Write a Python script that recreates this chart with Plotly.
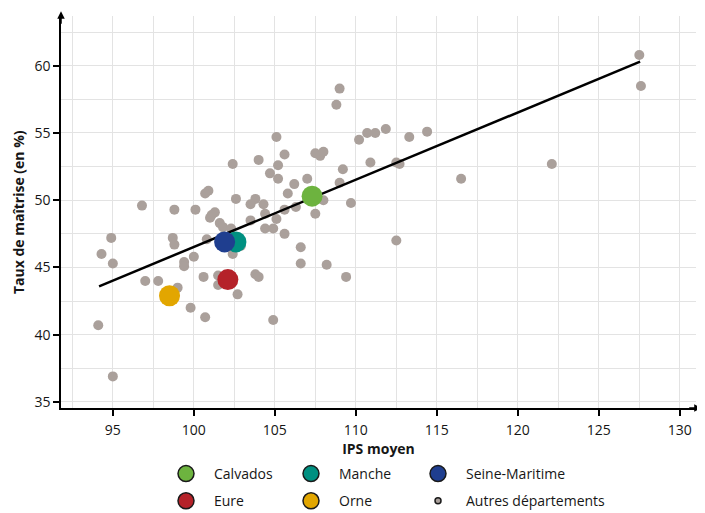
import plotly.graph_objects as go

# ---- data ----
other_ips = [127.5, 127.6, 109.0, 108.8, 105.1, 110.2, 110.7, 111.2, 111.85, 113.3,
             114.4, 102.4, 104.0, 105.6, 107.5, 107.8, 108.0, 105.2, 104.7, 105.2,
             106.2, 107.0, 105.8, 109.2, 109.0, 110.9, 112.5, 112.7, 116.5, 122.1,
             109.7, 108.0, 107.5, 102.6, 103.8, 103.5, 104.3, 104.4, 105.6, 106.3,
             103.5, 105.1, 100.9, 100.7, 96.8, 98.8, 100.1, 101.3, 101.1, 101.0,
             101.6, 101.8, 104.4, 104.9, 105.6, 102.3, 94.9, 98.7, 98.8, 100.8,
             94.3, 95.0, 100.0, 99.4, 99.4, 97.0, 97.8, 99.0, 100.6, 101.5,
             101.5, 102.7, 99.8, 100.7, 94.1, 95.0, 103.8, 104.0, 104.9, 112.5,
             106.6, 106.6, 108.2, 109.4, 102.4, 102.9]
other_taux = [60.8, 58.5, 58.3, 57.1, 54.7, 54.5, 55.0, 55.0, 55.3, 54.7,
              55.1, 52.7, 53.0, 53.4, 53.5, 53.3, 53.6, 52.6, 52.0, 51.6,
              51.2, 51.6, 50.5, 52.3, 51.3, 52.8, 52.8, 52.7, 51.6, 52.7,
              49.8, 50.0, 49.0, 50.1, 50.1, 49.7, 49.7, 49.0, 49.3, 49.5,
              48.5, 48.6, 50.7, 50.5, 49.6, 49.3, 49.3, 49.1, 48.9, 48.7,
              48.3, 48.0, 47.9, 47.9, 47.5, 47.9, 47.2, 47.2, 46.7, 47.1,
              46.0, 45.3, 45.8, 45.4, 45.1, 44.0, 44.0, 43.5, 44.3, 44.4,
              43.7, 43.0, 42.0, 41.3, 40.7, 36.9, 44.5, 44.3, 41.1, 47.0,
              46.5, 45.3, 45.2, 44.3, 46.0, 46.6]

dept_names = ["Calvados", "Manche", "Seine-Maritime", "Eure", "Orne"]
dept_ips = [107.3, 102.6, 101.9, 102.1, 98.5]
dept_taux = [50.3, 46.9, 46.9, 44.1, 42.9]
dept_colors = ["#6db33f", "#009081", "#1f3e8f", "#b52229", "#e2a600"]

trend_ips = [94.15, 127.55]
trend_taux = [43.6, 60.3]

other_label = "Autres départements"
x_title = "IPS moyen"
y_title = "Taux de maîtrise (en %)"
x_ticks = [95, 100, 105, 110, 115, 120, 125, 130]
y_ticks = [35, 40, 45, 50, 55, 60]

GRAY = "#aaa09b"
FONT = "Open Sans"
TXT = "#161616"
GRID = "#e3e3e3"

# the page body has an 8px default margin: layout coordinates below are
# expressed relative to the figure, i.e. screen position minus 8px
W, H = 705, 513
OFF = 8
PLOT_L = 61 - OFF

fig = go.Figure()

fig.add_trace(go.Scatter(x=other_ips, y=other_taux, mode="markers",
                         marker=dict(size=10, color=GRAY, line=dict(width=0)),
                         showlegend=False, name=other_label))
fig.add_trace(go.Scatter(x=trend_ips, y=trend_taux, mode="lines",
                         line=dict(color="black", width=2.5),
                         showlegend=False, hoverinfo="skip"))
for name, xv, yv, c in zip(dept_names, dept_ips, dept_taux, dept_colors):
    fig.add_trace(go.Scatter(x=[xv], y=[yv], mode="markers", name=name,
                             marker=dict(size=21, color=c, line=dict(width=0)),
                             showlegend=False))

legend_entries = [("Calvados", dept_colors[0], 16, "legend"),
                  ("Eure", dept_colors[3], 16, "legend"),
                  ("Manche", dept_colors[1], 16, "legend2"),
                  ("Orne", dept_colors[4], 16, "legend2"),
                  ("Seine-Maritime", dept_colors[2], 16, "legend3"),
                  (other_label, GRAY, 6, "legend3")]
for name, c, s, lg in legend_entries:
    fig.add_trace(go.Scatter(x=[None], y=[None], mode="markers", name=name,
                             legendgroup=name,
                             marker=dict(size=s, color=c, line=dict(width=1.5, color="#1a1a1a")),
                             legend=lg))

axis_common = dict(showline=True, linecolor="black", linewidth=1.5,
                   ticks="outside", ticklen=6, tickwidth=1.5, tickcolor="black",
                   showgrid=True, gridcolor=GRID, gridwidth=1,
                   zeroline=False, automargin=True,
                   tickfont=dict(family=FONT, size=14, color=TXT))

fig.update_xaxes(range=[91.8, 131.0], tickvals=x_ticks, ticklabelstandoff=2,
                 minor=dict(dtick=2.5, tick0=92.5, showgrid=True, gridcolor=GRID, ticks=""),
                 title=dict(text="<b>" + x_title + "</b>", font=dict(family=FONT, size=14, color=TXT), standoff=7),
                 **axis_common)
fig.update_yaxes(range=[34.55, 63.7], tickvals=y_ticks,
                 minor=dict(dtick=2.5, tick0=35, showgrid=True, gridcolor=GRID, ticks=""),
                 **axis_common)

def leg(xpx):
    return dict(orientation="v", xref="container", yref="container",
                x=(xpx - OFF) / W, y=1 - (458 - OFF) / H, xanchor="left", yanchor="top",
                font=dict(family=FONT, size=14, color=TXT),
                itemwidth=46, tracegroupgap=6,
                bgcolor="rgba(0,0,0,0)", itemclick=False, itemdoubleclick=False)

fig.update_layout(
    width=W, height=H,
    margin=dict(l=PLOT_L, r=W - (696 - OFF), t=16 - OFF, b=H - (408 - OFF), autoexpand=False),
    plot_bgcolor="white", paper_bgcolor="white",
    font=dict(family=FONT, size=14, color=TXT),
    legend=leg(158), legend2=leg(283), legend3=leg(410),
    annotations=[
        dict(x=0, y=0.5, xref="paper", yref="paper", xanchor="center", yanchor="middle",
             xshift=(18 - OFF) - PLOT_L, textangle=-90, showarrow=False,
             text="<b>" + y_title + "</b>", font=dict(family=FONT, size=14, color=TXT)),
        dict(x=1.009, y=0, xref="paper", yref="paper", ax=-14, ay=0,
             showarrow=True, arrowhead=2, arrowsize=1, arrowwidth=1.5,
             arrowcolor="black", text=""),
        dict(x=0, y=1.012, xref="paper", yref="paper", ax=0, ay=14,
             showarrow=True, arrowhead=2, arrowsize=1, arrowwidth=1.5,
             arrowcolor="black", text=""),
    ],
)

fig.write_html("out.html")
